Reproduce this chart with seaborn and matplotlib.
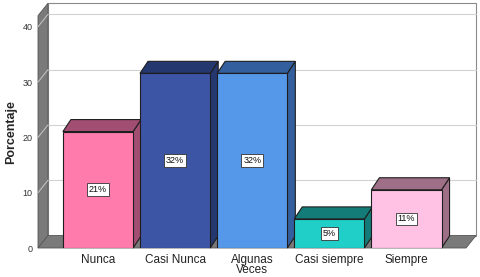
import matplotlib
matplotlib.use("Agg")
import matplotlib.pyplot as plt
import matplotlib.transforms as mtransforms
from matplotlib.patches import Polygon
import numpy as np
import seaborn as sns

# datos (n = 19)
categorias = ["Nunca", "Casi Nunca", "Algunas\nVeces", "Casi siempre", "Siempre"]
porcentajes = [21.05, 31.58, 31.58, 5.26, 10.53]
y_ticks = [0, 10, 20, 30, 40]

color_frente = ["#FF7BAC", "#3D55A5", "#5597E8", "#1FCFC8", "#FFC2E4"]
color_lado = ["#A24E72", "#24376F", "#335F9E", "#137C78", "#9E6F87"]

# profundidad 3D en pixeles
BAR_DX, BAR_DY = 8, 12
WALL_DX, WALL_DY = 10, 12.5
GRIS = "#7A7A7A"

sns.set_style("white")
plt.rcParams["font.family"] = ["Liberation Sans", "DejaVu Sans"]

fig = plt.figure(figsize=(4.8, 2.77), dpi=100)
ax = fig.add_axes([38 / 480, 29 / 277, 428 / 480, 232.3 / 277])

sns.barplot(x=categorias, y=porcentajes, hue=categorias, palette=color_frente,
            legend=False, width=0.91, edgecolor="#1E1E1E", linewidth=0.8,
            saturation=1, ax=ax)

ax.set_xlim(-0.778, 4.772)
ax.set_ylim(0, 42)
ax.set_yticks(y_ticks)
ax.set_yticklabels([str(t) for t in y_ticks], fontsize=6.5, color="#333333")
ax.tick_params(axis="y", length=0, pad=4)
ax.tick_params(axis="x", length=0, pad=4, labelsize=8.5, colors="#222222")
for lbl in ax.get_xticklabels():
    lbl.set_linespacing(0.85)
for s in ax.spines.values():
    s.set_visible(False)
ax.patch.set_visible(False)
ax.set_xlabel("")
ax.set_ylabel("Porcentaje", fontsize=9, fontweight="bold", labelpad=4)

ident = mtransforms.IdentityTransform()


def to_px(pts, dx, dy):
    """puntos (x, y, fondo) -> pixeles, desplazando los de fondo."""
    out = []
    for x, y, back in pts:
        px, py = ax.transData.transform((x, y))
        if back:
            px, py = px + dx, py + dy
        out.append((px, py))
    return out


x0, x1 = ax.get_xlim()
y1 = ax.get_ylim()[1]

# pared del fondo
pared = to_px([(x0, 0, 1), (x1, 0, 1), (x1, y1, 1), (x0, y1, 1)], WALL_DX, WALL_DY)
ax.add_patch(Polygon(pared, closed=True, transform=ident, facecolor="white",
                     edgecolor="#8A8A8A", linewidth=0.8, clip_on=False, zorder=0.1))
# pared izquierda y piso
izq = to_px([(x0, 0, 0), (x0, y1, 0), (x0, y1, 1), (x0, 0, 1)], WALL_DX, WALL_DY)
ax.add_patch(Polygon(izq, closed=True, transform=ident, facecolor=GRIS,
                     edgecolor="#555555", linewidth=0.6, clip_on=False, zorder=0.3))
piso = to_px([(x0, 0, 0), (x0, 0, 1), (x1, 0, 1), (x1, 0, 0)], WALL_DX, WALL_DY)
ax.add_patch(Polygon(piso, closed=True, transform=ident, facecolor=GRIS,
                     edgecolor="#555555", linewidth=0.6, clip_on=False, zorder=0.4))

# lineas de la cuadricula
for t in y_ticks[1:]:
    fondo = to_px([(x0, t, 1), (x1, t, 1)], WALL_DX, WALL_DY)
    ax.plot([p[0] for p in fondo], [p[1] for p in fondo], transform=ident,
            color="#D2D2D2", linewidth=0.8, clip_on=False, zorder=0.2)
    diag = to_px([(x0, t, 0), (x0, t, 1)], WALL_DX, WALL_DY)
    ax.plot([p[0] for p in diag], [p[1] for p in diag], transform=ident,
            color="#C8C8C8", linewidth=0.7, clip_on=False, zorder=0.5)

# barras 3D: lado, tapa y frente
for i, (bar, val) in enumerate(zip(ax.patches[:len(porcentajes)], porcentajes)):
    bx0 = bar.get_x()
    bx1 = bx0 + bar.get_width()
    h = bar.get_height()
    bar.set_zorder(2 + 2 * i)
    tapa = to_px([(bx0, h, 0), (bx1, h, 0), (bx1, h, 1), (bx0, h, 1)], BAR_DX, BAR_DY)
    lado = to_px([(bx1, 0, 0), (bx1, h, 0), (bx1, h, 1), (bx1, 0, 1)], BAR_DX, BAR_DY)
    for poly in (lado, tapa):
        ax.add_patch(Polygon(poly, closed=True, transform=ident,
                             facecolor=color_lado[i], edgecolor="#1E1E1E",
                             linewidth=0.8, clip_on=False, zorder=1 + 2 * i))
    ax.text(bx0 + bar.get_width() / 2, h / 2, f"{round(val)}%", ha="center",
            va="center", fontsize=6.5, color="#111111", zorder=30,
            bbox=dict(boxstyle="square,pad=0.2", facecolor="white",
                      edgecolor="#333333", linewidth=0.6))

fig.savefig("out.png", dpi=100, facecolor="white")
